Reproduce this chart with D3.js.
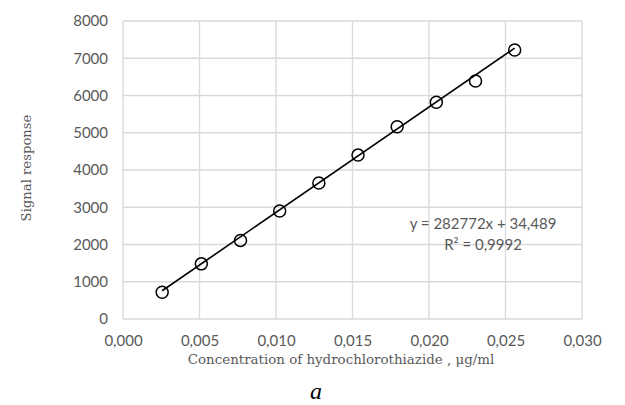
<!DOCTYPE html>
<html>
<head>
<meta charset="utf-8">
<script src="https://cdn.jsdelivr.net/npm/d3@7"></script>
<style>
  body { margin: 0; background: #fff; }
  svg { display: block; }
</style>
</head>
<body>
<div id="vis"></div>
<script>
// calibration data
const CONC = [0.00256, 0.00512, 0.00768, 0.01024, 0.0128, 0.01536, 0.01792, 0.02048, 0.02304, 0.0256];
const SIGNAL = [720, 1480, 2110, 2900, 3650, 4400, 5160, 5820, 6390, 7220];

// trendline as printed on the chart
const SLOPE = 282772;
const INTERCEPT = 34.489;
const EQ_LABELS = ["y = 282772x + 34,489", "R² = 0,9992"];

const X_TICKS = [0, 0.005, 0.010, 0.015, 0.020, 0.025, 0.030];
const Y_TICKS = [0, 1000, 2000, 3000, 4000, 5000, 6000, 7000, 8000];

const FRAME_WIDTH = 625;
const FRAME_HEIGHT = 405;
const MARGINS = {left: 123, right: 43, top: 21, bottom: 86};

const VIS_WIDTH = FRAME_WIDTH - MARGINS.left - MARGINS.right;
const VIS_HEIGHT = FRAME_HEIGHT - MARGINS.top - MARGINS.bottom;

const GRID = "#d9d9d9";
const TXT = "#595959";
const SANS = "Lato, 'Liberation Sans', sans-serif";
const SERIF = "'DejaVu Serif', 'Liberation Serif', serif";

const LOCALE = d3.formatLocale({decimal: ",", thousands: "", grouping: [3], currency: ["", ""]});
const FMT_X = LOCALE.format(".3f");

const FRAME = d3.select("#vis")
                .append("svg")
                    .attr("width", FRAME_WIDTH)
                    .attr("height", FRAME_HEIGHT);

const X_SCALE = d3.scaleLinear()
                    .domain([0, 0.030])
                    .range([0, VIS_WIDTH]);

const Y_SCALE = d3.scaleLinear()
                    .domain([0, 8000])
                    .range([VIS_HEIGHT, 0]);

const PLOT = FRAME.append("g")
                .attr("transform", "translate(" + MARGINS.left + "," + MARGINS.top + ")");

// gridlines
PLOT.selectAll(".hgrid")
    .data(Y_TICKS)
    .enter()
    .append("line")
        .attr("x1", 0)
        .attr("x2", VIS_WIDTH)
        .attr("y1", (d) => Y_SCALE(d))
        .attr("y2", (d) => Y_SCALE(d))
        .attr("stroke", GRID)
        .attr("stroke-width", 1.3);

PLOT.selectAll(".vgrid")
    .data(X_TICKS)
    .enter()
    .append("line")
        .attr("x1", (d) => X_SCALE(d))
        .attr("x2", (d) => X_SCALE(d))
        .attr("y1", 0)
        .attr("y2", VIS_HEIGHT)
        .attr("stroke", GRID)
        .attr("stroke-width", 1.3);

// axes (labels only, gridlines already drawn)
const X_AXIS = PLOT.append("g")
    .attr("transform", "translate(0," + VIS_HEIGHT + ")")
    .call(d3.axisBottom(X_SCALE).tickValues(X_TICKS).tickFormat(FMT_X).tickSize(0).tickPadding(16));

const Y_AXIS = PLOT.append("g")
    .call(d3.axisLeft(Y_SCALE).tickValues(Y_TICKS).tickFormat(d3.format("d")).tickSize(0).tickPadding(15));

[X_AXIS, Y_AXIS].forEach((ax) => {
    ax.select(".domain").remove();
    ax.selectAll("text")
        .attr("fill", TXT)
        .style("font-family", SANS)
        .style("font-size", "15px");
});

// trendline
const X_MIN = d3.min(CONC);
const X_MAX = d3.max(CONC);

PLOT.append("line")
    .attr("x1", X_SCALE(X_MIN))
    .attr("y1", Y_SCALE(SLOPE * X_MIN + INTERCEPT))
    .attr("x2", X_SCALE(X_MAX))
    .attr("y2", Y_SCALE(SLOPE * X_MAX + INTERCEPT))
    .attr("stroke", "#000")
    .attr("stroke-width", 1.6);

// points
PLOT.selectAll(".point")
    .data(CONC)
    .enter()
    .append("circle")
        .attr("cx", (d) => X_SCALE(d))
        .attr("cy", (d, i) => Y_SCALE(SIGNAL[i]))
        .attr("r", 6)
        .attr("fill", "none")
        .attr("stroke", "#000")
        .attr("stroke-width", 1.5);

// equation
PLOT.selectAll(".eq")
    .data(EQ_LABELS)
    .enter()
    .append("text")
        .attr("x", 360)
        .attr("y", (d, i) => 208 + i * 21)
        .attr("text-anchor", "middle")
        .attr("fill", TXT)
        .style("font-family", SANS)
        .style("font-size", "15px")
        .text((d) => d);

// axis titles
FRAME.append("text")
    .attr("x", 341)
    .attr("y", 364)
    .attr("text-anchor", "middle")
    .attr("fill", TXT)
    .style("font-family", SERIF)
    .style("font-size", "13.4px")
    .text("Concentration of hydrochlorothiazide , μg/ml");

FRAME.append("text")
    .attr("transform", "translate(31,168) rotate(-90)")
    .attr("text-anchor", "middle")
    .attr("fill", TXT)
    .style("font-family", SERIF)
    .style("font-size", "13.2px")
    .text("Signal response");

// caption
FRAME.append("text")
    .attr("x", 316)
    .attr("y", 399)
    .attr("text-anchor", "middle")
    .attr("fill", "#000")
    .style("font-family", "'Liberation Serif', serif")
    .style("font-style", "italic")
    .style("font-size", "24px")
    .text("a");
</script>
</body>
</html>
